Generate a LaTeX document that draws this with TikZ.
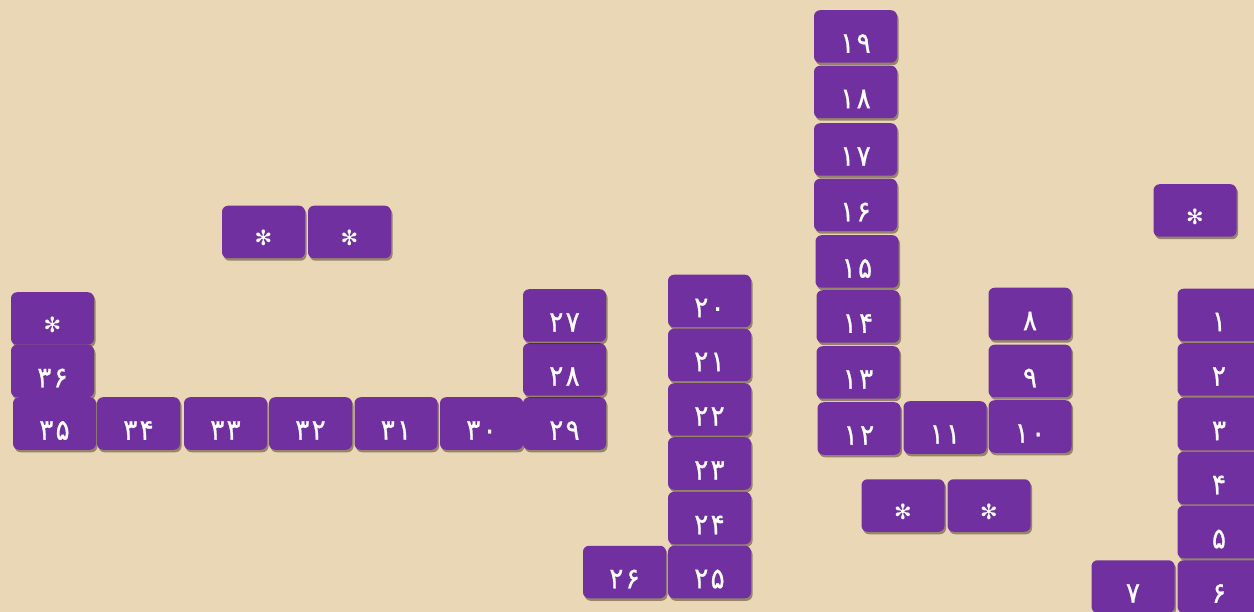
\documentclass[tikz,border=0pt]{standalone}
\usepackage{fontspec}
\newfontfamily\pd[Script=Arabic, FakeStretch=0.9, FakeBold=0.8, LetterSpace=8]{DejaVu Sans}
\newfontfamily\sd{DejaVu Sans}
\usetikzlibrary{shadows}
\definecolor{paper}{HTML}{EAD7B6}
\definecolor{tilepurple}{HTML}{7030A0}
\tikzset{
  tile/.style={fill=tilepurple, draw=none, rounded corners=6pt, minimum width=83pt, minimum height=52.5pt, inner sep=0pt,
    drop shadow={shadow xshift=1.5pt, shadow yshift=-2.5pt, opacity=0.45, fill=black!75!brown}},
  num/.style={text=white, font=\pd\fontsize{29}{29}\selectfont, inner sep=0pt},
  star/.style={text=white, font=\sd\fontsize{21}{21}\selectfont, inner sep=0pt}
}
\newcommand\tilenum[3]{\node[tile] (#1) at (#2) {}; \node[num] (#1t) at ([yshift=-7pt]#1.center) {#3};}
\newcommand\tilestar[2]{\node[tile] (#1) at (#2) {}; \node[star] (#1t) at ([yshift=-6pt]#1.center) {✻};}
\begin{document}
\begin{tikzpicture}[x=1pt,y=-1pt]
\clip (0,0) rectangle (1254,612);
\fill[paper] (0,0) rectangle (1254,612);
% left group
\tilestar{sa}{52.5,318.5}
\tilenum{t36}{52.5,371}{۳۶}
\tilenum{t35}{54.5,423.5}{۳۵}
\tilenum{t34}{138.5,423.5}{۳۴}
\tilenum{t33}{225.5,423.5}{۳۳}
\tilenum{t32}{310.5,423.5}{۳۲}
\tilenum{t31}{396,423.5}{۳۱}
\tilenum{t30}{481.5,423.5}{۳۰}
\tilenum{t29}{564.5,423.5}{۲۹}
\tilenum{t28}{564.5,369.5}{۲۸}
\tilenum{t27}{564.5,315.5}{۲۷}
% top stars
\tilestar{sb}{263.5,232}
\tilestar{sc}{349.5,232}
% column 20-26
\tilenum{t20}{709.5,301}{۲۰}
\tilenum{t21}{709.5,355}{۲۱}
\tilenum{t22}{709.5,409.5}{۲۲}
\tilenum{t23}{709.5,463.5}{۲۳}
\tilenum{t24}{709.5,518}{۲۴}
\tilenum{t25}{709.5,572}{۲۵}
\tilenum{t26}{624.5,572}{۲۶}
% column 19-8
\tilenum{t19}{855.5,36.5}{۱۹}
\tilenum{t18}{855.5,92}{۱۸}
\tilenum{t17}{855.5,149.5}{۱۷}
\tilenum{t16}{855.5,205}{۱۶}
\tilenum{t15}{857,261.5}{۱۵}
\tilenum{t14}{858,316.5}{۱۴}
\tilenum{t13}{858,372.5}{۱۳}
\tilenum{t12}{859,428.5}{۱۲}
\tilenum{t11}{945,427.5}{۱۱}
\tilenum{t10}{1030,426.5}{۱۰}
\tilenum{t9}{1030,371}{۹}
\tilenum{t8}{1030,314}{۸}
\tilestar{sd}{903,505.5}
\tilestar{se}{989,505.5}
% right column
\tilestar{sf}{1195,210.5}
\tilenum{t1}{1219,315}{۱}
\tilenum{t2}{1219,369.5}{۲}
\tilenum{t3}{1219,424}{۳}
\tilenum{t4}{1219,478}{۴}
\tilenum{t5}{1219,532}{۵}
\tilenum{t6}{1219,586.5}{۶}
\tilenum{t7}{1133,586.5}{۷}
\end{tikzpicture}
\end{document}
